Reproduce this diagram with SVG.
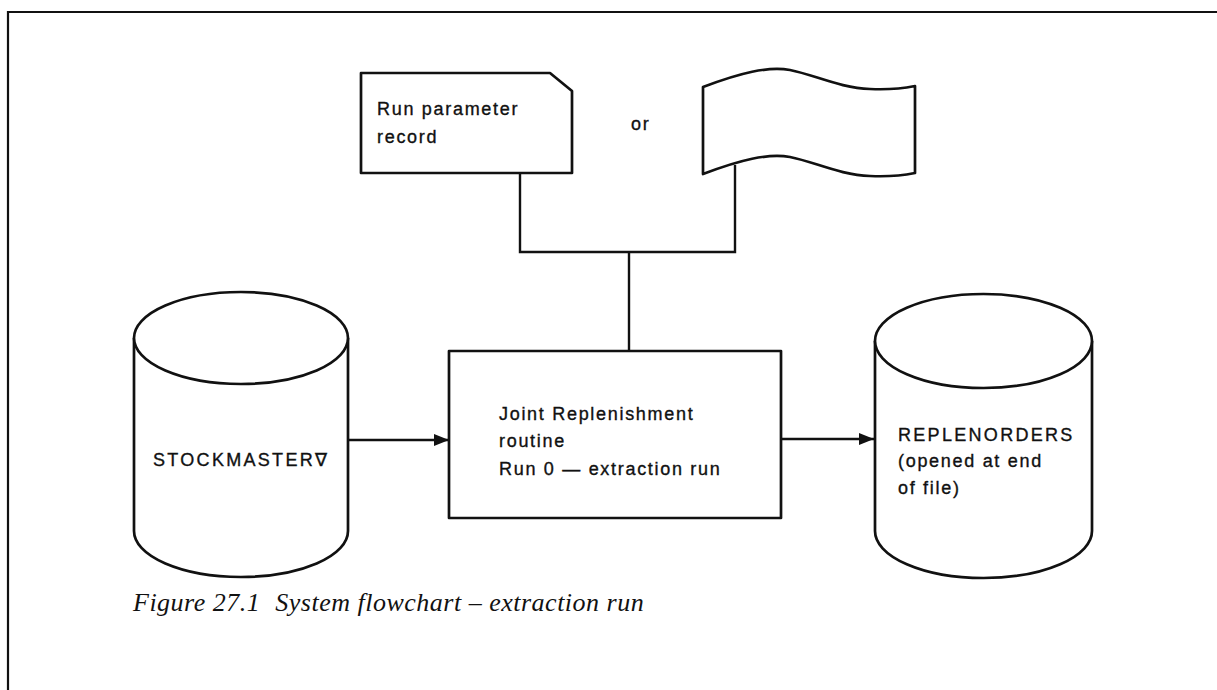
<svg xmlns="http://www.w3.org/2000/svg" width="1217" height="690" viewBox="0 0 1217 690">
  <defs>
    <style>
      .shape { fill: #fff; stroke: #111; stroke-width: 2.7; stroke-linejoin: round; }
      .line { fill: none; stroke: #111; stroke-width: 2.4; }
      .frame { fill: none; stroke: #111; stroke-width: 2.2; }
      .label { font-family: "Liberation Sans", Arial, sans-serif; font-size: 18px; letter-spacing: 1.7px; fill: #111; stroke: #111; stroke-width: 0.35; }
      .wide { letter-spacing: 2.3px; }
      .caption { font-family: "Liberation Serif", "Times New Roman", serif; font-style: italic; font-size: 26px; letter-spacing: 0.5px; fill: #111; }
    </style>
    <marker id="arrow" viewBox="0 0 15 12" refX="15" refY="6" markerWidth="15" markerHeight="12" markerUnits="userSpaceOnUse" orient="auto">
      <path d="M0,0 L15,6 L0,12 Z" fill="#111"/>
    </marker>
  </defs>
  <rect width="1217" height="690" fill="#fff"/>

  <!-- page frame: top and left edges only -->
  <path class="frame" d="M8,690 L8,12 L1217,12"/>

  <!-- connectors -->
  <g id="connectors">
    <path class="line" d="M520,173 L520,252 L735,252 L735,165"/>
    <path class="line" d="M629,252 L629,351"/>
    <path class="line" d="M348,440 L449,440" marker-end="url(#arrow)"/>
    <path class="line" d="M781,439 L874,439" marker-end="url(#arrow)"/>
  </g>

  <!-- punched card -->
  <g id="run-parameter-card">
    <path class="shape" d="M361,73 L550,73 L572,91 L572,173 L361,173 Z"/>
    <text class="label" x="377" y="115">Run parameter</text>
    <text class="label" x="377" y="143">record</text>
  </g>

  <text id="or-label" class="label" x="631" y="130">or</text>

  <!-- punched tape -->
  <g id="paper-tape">
    <path class="shape" d="M703,87 C740,73 768,66 790,70 C815,75 840,88 870,89 C890,90 905,88 915,86 L915,173 C905,175 890,177 870,176 C840,175 815,162 790,157 C768,153 740,160 703,174 Z"/>
  </g>

  <!-- STOCKMASTER disk file -->
  <g id="stockmaster">
    <path class="shape" d="M134,338 L134,531 A107,46 0 0 0 348,531 L348,338"/>
    <ellipse class="shape" cx="241" cy="338" rx="107" ry="46"/>
    <text class="label wide" x="153" y="466">STOCKMASTER∇</text>
  </g>

  <!-- process box -->
  <g id="joint-replenishment">
    <rect class="shape" x="449" y="351" width="332" height="167"/>
    <text class="label" x="499" y="420">Joint Replenishment</text>
    <text class="label" x="499" y="447">routine</text>
    <text class="label" x="499" y="475">Run 0 — extraction run</text>
  </g>

  <!-- REPLENORDERS disk file -->
  <g id="replenorders">
    <path class="shape" d="M875,341 L875,531 A108.5,47 0 0 0 1092,531 L1092,341"/>
    <ellipse class="shape" cx="983.5" cy="341" rx="108.5" ry="47"/>
    <text class="label wide" x="898" y="441">REPLENORDERS</text>
    <text class="label" x="898" y="467">(opened at end</text>
    <text class="label" x="898" y="494">of file)</text>
  </g>

  <text id="caption" class="caption" x="133" y="611">Figure 27.1<tspan dx="15">System flowchart – extraction run</tspan></text>
</svg>
